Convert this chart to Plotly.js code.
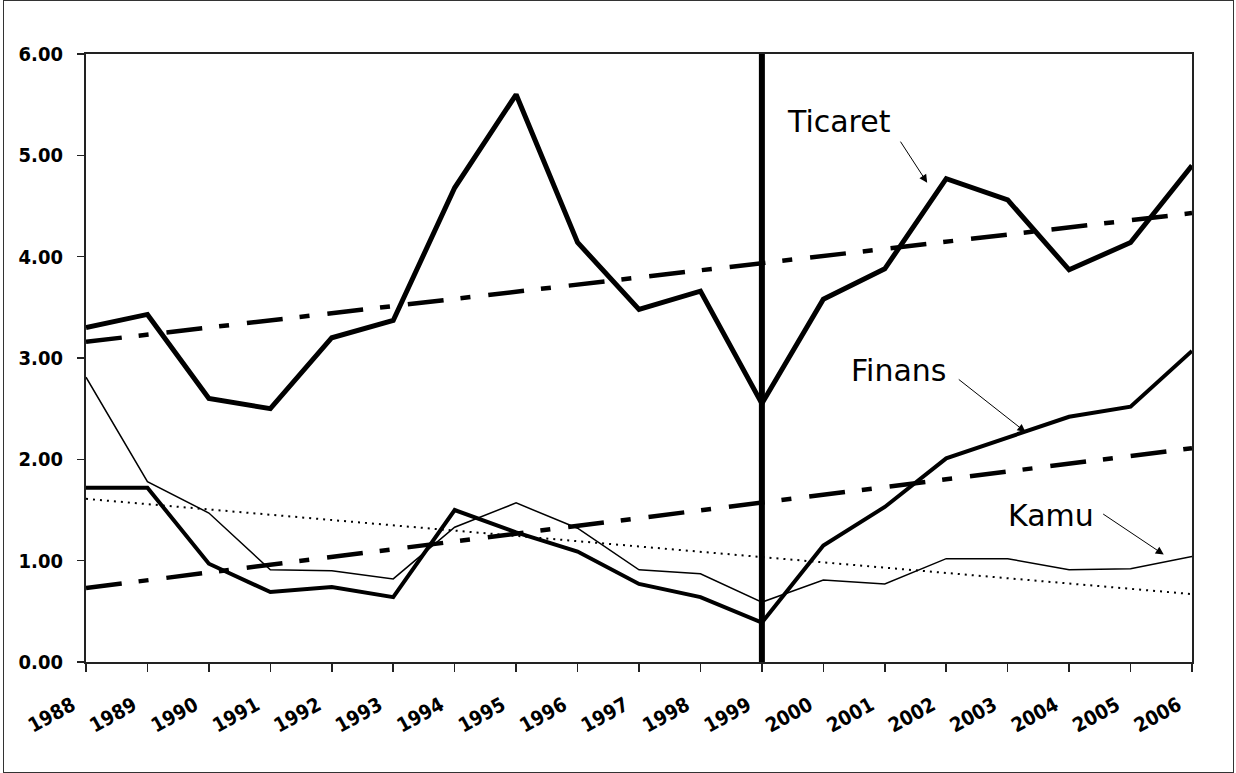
<!DOCTYPE html>
<html>
<head>
<meta charset="utf-8">
<script src="https://cdn.plot.ly/plotly-3.0.1.min.js"></script>
<style>
  html, body { margin: 0; padding: 0; background: #fff; }
  #wrap { position: relative; width: 1236px; height: 773px; }
  #chart { width: 1236px; height: 773px; }
  #frame { position: absolute; left: 3px; top: 0px; width: 1229px; height: 771px; border: 1.5px solid #333; pointer-events: none; }
</style>
</head>
<body>
<div id="wrap">
  <div id="chart"></div>
  <div id="frame"></div>
</div>
<script>
// ---- data ----
const years = [1988, 1989, 1990, 1991, 1992, 1993, 1994, 1995, 1996, 1997, 1998, 1999, 2000, 2001, 2002, 2003, 2004, 2005, 2006];
const yearLabels = ["1988", "1989", "1990", "1991", "1992", "1993", "1994", "1995", "1996", "1997", "1998", "1999", "2000", "2001", "2002", "2003", "2004", "2005", "2006"];
const ticaret = [3.30, 3.43, 2.60, 2.50, 3.20, 3.37, 4.68, 5.60, 4.14, 3.48, 3.66, 2.55, 3.58, 3.88, 4.77, 4.56, 3.87, 4.14, 4.90];
const finans  = [1.72, 1.72, 0.97, 0.69, 0.74, 0.64, 1.50, 1.28, 1.09, 0.77, 0.64, 0.39, 1.15, 1.53, 2.01, 2.22, 2.42, 2.52, 3.07];
const kamu    = [2.81, 1.78, 1.47, 0.91, 0.90, 0.82, 1.33, 1.57, 1.32, 0.91, 0.87, 0.59, 0.81, 0.77, 1.02, 1.02, 0.91, 0.92, 1.04];
const trendYears   = [1988, 2006];
const ticaretTrend = [3.16, 4.43];
const finansTrend  = [0.73, 2.11];
const kamuTrend    = [1.61, 0.67];
const breakYear = 1999;
const yTicks = [0, 1, 2, 3, 4, 5, 6];

const dashDot = "36px,17px,10px,18px";

const traces = [
  { x: trendYears, y: kamuTrend, mode: "lines", line: { color: "#000", width: 2, dash: "2px,5px" }, hoverinfo: "skip" },
  { x: trendYears, y: ticaretTrend, mode: "lines", line: { color: "#000", width: 4.5, dash: dashDot }, hoverinfo: "skip" },
  { x: trendYears, y: finansTrend, mode: "lines", line: { color: "#000", width: 4.5, dash: dashDot }, hoverinfo: "skip" },
  { x: years, y: kamu, mode: "lines", name: "Kamu", line: { color: "#000", width: 1.5 } },
  { x: years, y: finans, mode: "lines", name: "Finans", line: { color: "#000", width: 4 } },
  { x: years, y: ticaret, mode: "lines", name: "Ticaret", line: { color: "#000", width: 5 } }
];

const labelFont = { family: "DejaVu Sans Condensed, DejaVu Sans, sans-serif", size: 20, color: "#000", weight: "bold" };
const annFont = { family: "DejaVu Sans, sans-serif", size: 30, color: "#000" };

function arrow(xh, yh, xt, yt) {
  return { x: xh, y: yh, ax: xt, ay: yt, xref: "x", yref: "y", axref: "x", ayref: "y",
           text: "", showarrow: true, arrowhead: 2, arrowsize: 1.6, arrowwidth: 1, arrowcolor: "#000" };
}

const layout = {
  width: 1236, height: 773,
  margin: { l: 86, r: 44, t: 54, b: 111, pad: 0 },
  paper_bgcolor: "#fff", plot_bgcolor: "#fff",
  showlegend: false,
  xaxis: {
    range: [1988, 2006], tickmode: "array", tickvals: years, ticktext: yearLabels,
    tickangle: -29, ticks: "outside", ticklen: 8, tickwidth: 1.5, tickcolor: "#222",
    showline: true, linecolor: "#222", linewidth: 2, mirror: true,
    showgrid: false, zeroline: false, tickfont: labelFont, ticklabelstandoff: 14, ticklabelshift: -14
  },
  yaxis: {
    range: [0, 6], tickmode: "array", tickvals: yTicks, tickformat: ".2f",
    ticks: "outside", ticklen: 7, tickwidth: 1.5, tickcolor: "#222",
    showline: true, linecolor: "#222", linewidth: 2, mirror: true,
    showgrid: false, zeroline: false, tickfont: labelFont, ticklabelstandoff: 10
  },
  shapes: [
    { type: "line", xref: "x", yref: "y", x0: breakYear, x1: breakYear, y0: 0, y1: 6.03, line: { color: "#000", width: 6 } }
  ],
  annotations: [
    { x: 2000.26, y: 5.33, xref: "x", yref: "y", text: "Ticaret", showarrow: false, font: annFont },
    { x: 2001.23, y: 2.88, xref: "x", yref: "y", text: "Finans", showarrow: false, font: annFont },
    { x: 2003.71, y: 1.45, xref: "x", yref: "y", text: "Kamu", showarrow: false, font: annFont },
    arrow(2001.69, 4.73, 2001.24, 5.15),
    arrow(2003.29, 2.27, 2002.18, 2.80),
    arrow(2005.54, 1.06, 2004.53, 1.47)
  ]
};

Plotly.newPlot("chart", traces, layout, { displayModeBar: false, staticPlot: true });
</script>
</body>
</html>
